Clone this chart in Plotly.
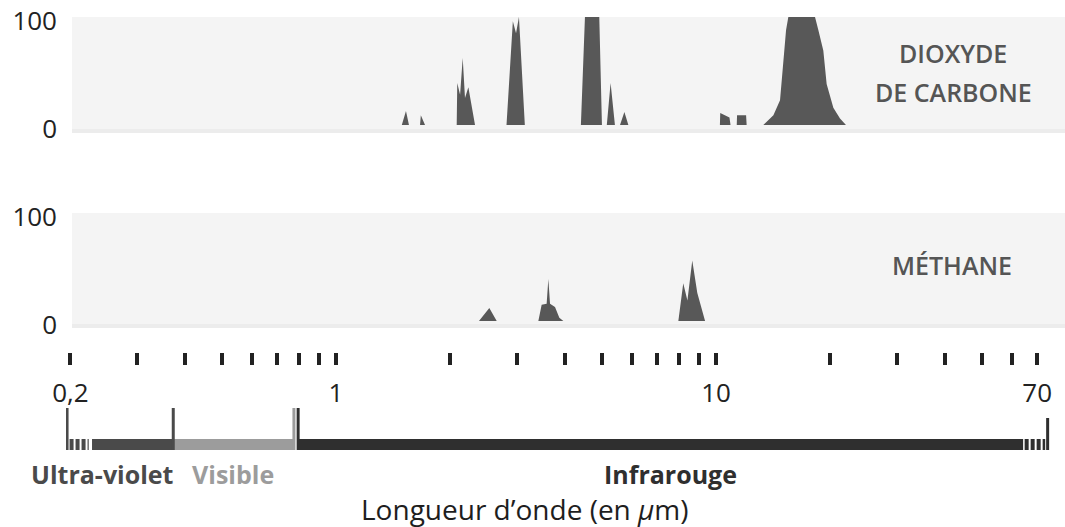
import plotly.graph_objects as go

# ---------------- data ----------------
co2_wavelength = [1.49, 1.528, 1.556,
                  1.664, 1.672, 1.715,
                  2.078, 2.085, 2.121, 2.155, 2.185, 2.23, 2.322,
                  2.81, 2.92, 2.977, 3.03, 3.14,
                  4.41, 4.52, 4.93, 5.01,
                  5.16, 5.28, 5.42,
                  5.59, 5.74, 5.88,
                  10.24, 10.26, 10.85, 10.92,
                  11.34, 11.36, 12.0, 12.04,
                  13.32, 14.16, 14.74, 15.10, 15.29, 15.50, 18.22, 18.59, 19.16, 19.55, 20.36, 21.2, 21.98]
co2_absorption = [0, 13, 0,
                  0, 9, 0,
                  0, 39, 28, 62, 25, 35, 0,
                  0, 96, 85, 100, 0,
                  0, 100, 100, 0,
                  0, 39, 0,
                  0, 12, 0,
                  0, 11, 7, 0,
                  0, 9, 9, 0,
                  0, 9, 23, 69, 88, 100, 100, 88, 69, 38, 16, 6, 0]

ch4_wavelength = [2.378, 2.532, 2.648,
                  3.408, 3.477, 3.584, 3.621, 3.658, 3.77, 3.87, 3.965,
                  7.96, 8.20, 8.41, 8.66, 8.93, 9.36]
ch4_absorption = [0, 12, 0,
                  0, 15, 16, 39, 16, 13, 3, 0,
                  0, 35, 19, 56, 26, 0]

tick_values = [0.2, 0.3, 0.4, 0.5, 0.6, 0.7, 0.8, 0.9, 1,
               2, 3, 4, 5, 6, 7, 8, 9, 10,
               20, 30, 40, 50, 60, 70]
tick_labels = {0.2: "0,2", 1: "1", 10: "10", 70: "70"}

band_names = ["Ultra-violet", "Visible", "Infrarouge"]
band_starts = [0.228, 0.373, 0.795]
band_ends = [0.373, 0.775, 64.3]
band_colors = ["#4a4a4a", "#9c9c9c", "#2f2f2f"]
uv_fade = [0.199, 0.2235]
ir_fade = [64.9, 73.5]
range_limits = [0.196, 74.6]

# ---------------- layout helpers ----------------
W, H = 1065, 527
def py(p):  # pixel y -> paper
    return (H - p) / H
def px(p):
    return p / W

x_left_px, ppd = 66, 380.0
x_range = [(x_left_px - 336) / ppd, (W - 336) / ppd]
x_domain = [px(x_left_px), 1]

FONT = "Open Sans"
fill_col = "#585858"

fig = go.Figure()
fig.add_trace(go.Scatter(x=co2_wavelength, y=co2_absorption, xaxis="x", yaxis="y",
                         mode="lines", fill="tozeroy", line=dict(width=0, color=fill_col),
                         fillcolor=fill_col, hoverinfo="skip"))
fig.add_trace(go.Scatter(x=ch4_wavelength, y=ch4_absorption, xaxis="x2", yaxis="y2",
                         mode="lines", fill="tozeroy", line=dict(width=0, color=fill_col),
                         fillcolor=fill_col, hoverinfo="skip"))

# spectral bands
for s, e, c in zip(band_starts, band_ends, band_colors):
    fig.add_trace(go.Scatter(x=[s, e], y=[0.5, 0.5], xaxis="x3", yaxis="y3", mode="lines",
                             line=dict(color=c, width=11), hoverinfo="skip"))
fig.add_trace(go.Scatter(x=uv_fade, y=[0.5, 0.5], xaxis="x3", yaxis="y3", mode="lines",
                         line=dict(color=band_colors[0], width=11, dash="4px,2px"), hoverinfo="skip"))
fig.add_trace(go.Scatter(x=ir_fade, y=[0.5, 0.5], xaxis="x3", yaxis="y3", mode="lines",
                         line=dict(color=band_colors[2], width=11, dash="4px,2px"), hoverinfo="skip"))

# vertical separators
seps = [(range_limits[0], band_colors[0], 408), (band_starts[1], band_colors[0], 408),
        (band_ends[1], band_colors[1], 408), (band_starts[2], band_colors[2], 408),
        (range_limits[1], band_colors[2], 418)]
shapes = []
for xv, c, top in seps:
    shapes.append(dict(type="line", xref="x3", yref="paper", x0=xv, x1=xv,
                       y0=py(450), y1=py(top), line=dict(color=c, width=3)))
# panel backgrounds
for top, bot in [(17, 129), (213, 324)]:
    shapes.append(dict(type="rect", xref="paper", yref="paper", x0=px(72), x1=1,
                       y0=py(bot), y1=py(top), fillcolor="#f4f4f4", line=dict(width=0),
                       layer="below"))
    shapes.append(dict(type="rect", xref="paper", yref="paper", x0=px(72), x1=1,
                       y0=py(bot + 4), y1=py(bot), fillcolor="#ececec", line=dict(width=0),
                       layer="below"))

hidden_x = dict(type="log", range=x_range, domain=x_domain, showgrid=False, zeroline=False,
                showticklabels=False, ticks="", showline=False, fixedrange=True, automargin=False)
yax = dict(range=[0, 100], tickvals=[0, 100], ticktext=["0", "100"], showgrid=False,
           zeroline=False, showline=False, ticks="", tickfont=dict(family=FONT, size=26, color="#222"),
           ticklabelstandoff=8, ticklabelshift=4, automargin=False, fixedrange=True,
           ticklabeloverflow="allow")

annotations = [
    dict(text="DIOXYDE", x=px(953), y=py(53)),
    dict(text="DE CARBONE", x=px(953), y=py(92)),
    dict(text="MÉTHANE", x=px(952), y=py(265)),
]
for a in annotations:
    a.update(xref="paper", yref="paper", showarrow=False, xanchor="center", yanchor="middle",
             font=dict(family=FONT, size=25, color="#555", weight=600))
band_label_x = [102, 233, 670]
for name, c, lx in zip(band_names, band_colors, band_label_x):
    annotations.append(dict(text=name, x=px(lx), y=py(474), xref="paper", yref="paper",
                            showarrow=False, xanchor="center", yanchor="middle",
                            font=dict(family=FONT, size=25, color=c, weight="bold")))
annotations.append(dict(text="Longueur d’onde (en <i>µ</i>m)", x=px(525), y=py(509),
                        xref="paper", yref="paper", showarrow=False, xanchor="center",
                        yanchor="middle", font=dict(family=FONT, size=28, color="#1e1e1e")))

fig.update_layout(
    width=W, height=H, autosize=False, margin=dict(l=0, r=0, t=0, b=0, autoexpand=False),
    paper_bgcolor="white", plot_bgcolor="rgba(0,0,0,0)", showlegend=False,
    xaxis=dict(hidden_x, anchor="y"),
    xaxis2=dict(hidden_x, anchor="y2"),
    xaxis3=dict(type="log", range=x_range, domain=x_domain, anchor="free", position=py(352),
                side="bottom", showgrid=False, zeroline=False, showline=False,
                tickvals=tick_values, ticktext=[tick_labels.get(v, "") for v in tick_values],
                ticks="outside", ticklen=12, tickwidth=4, tickcolor="#222", automargin=False,
                ticklabelstandoff=6,
                tickfont=dict(family=FONT, size=26, color="#222"), fixedrange=True),
    yaxis=dict(yax, domain=[py(125), py(17)], anchor="x"),
    yaxis2=dict(yax, domain=[py(321), py(213)], anchor="x2"),
    yaxis3=dict(range=[0, 1], domain=[py(450), py(439)], anchor="x3", visible=False, fixedrange=True),
    shapes=shapes, annotations=annotations,
)

post = ("document.documentElement.style.margin='0';document.body.style.margin='0';"
        "document.documentElement.style.overflow='hidden';document.body.style.overflow='hidden';"
        "var gd=document.getElementById('{plot_id}');"
        "Plotly.relayout(gd,{width:1065,height:527});")
fig.write_html("out.html", config={"responsive": False, "displayModeBar": False}, post_script=post)
